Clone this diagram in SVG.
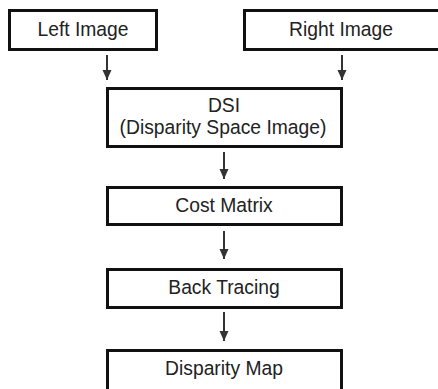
<svg xmlns="http://www.w3.org/2000/svg" width="438" height="389" viewBox="0 0 438 389">
<defs>
<style>
.box{fill:#fff;stroke:#111;stroke-width:3}
.t{font-family:"Liberation Sans",Arial,sans-serif;font-size:19.3px;fill:#222;text-anchor:middle}
.c{stroke:#333;stroke-width:2;fill:none}
</style>
<marker id="ah" markerWidth="10" markerHeight="10" viewBox="0 0 10 10" refX="10" refY="5" orient="auto" markerUnits="userSpaceOnUse">
<path d="M0,0.5 L10,5 L0,9.5 Z" fill="#333"/>
</marker>
</defs>
<rect width="438" height="389" fill="#fff"/>
<g id="connectors">
<line class="c" x1="107" y1="55" x2="107" y2="80" marker-end="url(#ah)"/>
<line class="c" x1="342" y1="55" x2="342" y2="80" marker-end="url(#ah)"/>
<line class="c" x1="224" y1="152" x2="224" y2="179" marker-end="url(#ah)"/>
<line class="c" x1="224" y1="231" x2="224" y2="259" marker-end="url(#ah)"/>
<line class="c" x1="224" y1="312" x2="224" y2="341" marker-end="url(#ah)"/>
</g>
<g id="left-image">
<rect class="box" x="9.5" y="10.5" width="147" height="39"/>
<text class="t" x="83" y="36">Left Image</text>
</g>
<g id="right-image">
<rect class="box" x="244.5" y="10.5" width="200" height="39"/>
<text class="t" x="341" y="36">Right Image</text>
</g>
<g id="dsi">
<rect class="box" x="107.5" y="88.5" width="234" height="58"/>
<text class="t" x="224" y="112">DSI</text>
<text class="t" x="223" y="134">(Disparity Space Image)</text>
</g>
<g id="cost-matrix">
<rect class="box" x="107.5" y="187.5" width="234" height="37"/>
<text class="t" x="224" y="212">Cost Matrix</text>
</g>
<g id="back-tracing">
<rect class="box" x="107.5" y="269.5" width="234" height="38"/>
<text class="t" x="224" y="294">Back Tracing</text>
</g>
<g id="disparity-map">
<rect class="box" x="107.5" y="350.5" width="234" height="45"/>
<text class="t" x="224" y="375">Disparity Map</text>
</g>
</svg>
